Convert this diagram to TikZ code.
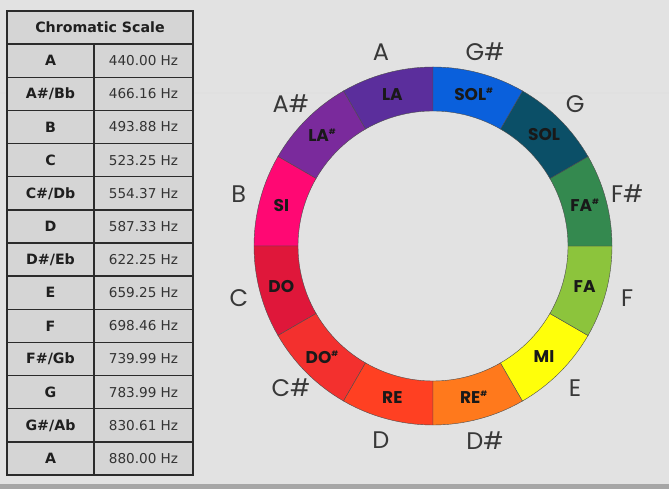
\documentclass[tikz,border=0pt]{standalone}
\usepackage{fontspec}
\setmainfont{Poppins}
\newfontfamily\tabfont{DejaVu Sans}
\usepackage{xcolor}
\usepackage{tikz}

\definecolor{bgC}{HTML}{E2E2E2}
\definecolor{cellC}{HTML}{D5D5D5}
\definecolor{gridC}{HTML}{2B2B2B}
\definecolor{laC}{HTML}{5B2E9C}
\definecolor{lasC}{HTML}{7A2A9C}
\definecolor{siC}{HTML}{FF0873}
\definecolor{doC}{HTML}{DF173A}
\definecolor{dosC}{HTML}{F3302E}
\definecolor{reC}{HTML}{FF4022}
\definecolor{resC}{HTML}{FF791C}
\definecolor{miC}{HTML}{FFFF0A}
\definecolor{faC}{HTML}{8CC43C}
\definecolor{fasC}{HTML}{34894F}
\definecolor{solC}{HTML}{0B4F67}
\definecolor{solsC}{HTML}{0A60DC}

\newcommand\shp{\raisebox{.75ex}{\fontsize{7.5}{8}\selectfont\#}}

\tikzset{
  notecell/.style={font=\tabfont\bfseries\fontsize{14.2}{16}\selectfont,text=black!88},
  freqcell/.style={font=\tabfont\fontsize{13.6}{16}\selectfont,text=black!80},
  syllable/.style={font=\bfseries\fontsize{17}{18}\selectfont,text=black!90},
  notename/.style={font=\fontsize{24}{26}\selectfont,text=black!78}
}

\begin{document}
\begin{tikzpicture}[x=1pt,y=1pt]
\useasboundingbox (0,0) rectangle (669,489);
\fill[bgC] (0,0) rectangle (669,489);
\draw[black!12,line width=1.2pt] (0,396)--(669,396);
\fill[black!35] (0,0) rectangle (669,5);

% table of frequencies
\fill[cellC] (7,14) rectangle (193,478);
\node[notecell] (title) at (100,461.4) {Chromatic Scale};
\foreach \n/\f [count=\i] in {A/440.00,{A\#/Bb}/466.16,B/493.88,C/523.25,{C\#/Db}/554.37,D/587.33,{D\#/Eb}/622.25,E/659.25,F/698.46,{F\#/Gb}/739.99,G/783.99,{G\#/Ab}/830.61,A/880.00}{
  \node[notecell] (note\i) at (50.5,{478-33.143*(\i+0.5)}) {\n};
  \node[freqcell] (freq\i) at (143.5,{478-33.143*(\i+0.5)}) {\f\ Hz};
  \draw[gridC,line width=1.3pt] (7,{478-33.143*\i})--(193,{478-33.143*\i});
}
\draw[gridC,line width=1.3pt] (94,14)--(94,444.857);
\draw[gridC,line width=1.5pt] (7,14) rectangle (193,478);

% colour wheel
\begin{scope}[shift={(433,243)}]
\foreach \a/\col/\syl/\nt [count=\i] in {90/laC/LA/A,120/lasC/{LA\shp}/{A\#},150/siC/SI/B,180/doC/DO/C,210/dosC/{DO\shp}/{C\#},240/reC/RE/D,270/resC/{RE\shp}/{D\#},300/miC/MI/E,330/faC/FA/F,0/fasC/{FA\shp}/{F\#},30/solC/SOL/G,60/solsC/{SOL\shp}/{G\#}}{
  \filldraw[fill=\col,draw=black!70,line width=0.4pt] (\a:179) arc[start angle=\a,end angle=\a+30,radius=179]
    -- (\a+30:135) arc[start angle=\a+30,end angle=\a,radius=135] -- cycle;
  \node[syllable] (syl\i) at (\a+15:157) {\syl};
  \node[notename] (nt\i) at (\a+15:201) {\nt};
}
\end{scope}
\end{tikzpicture}
\end{document}
